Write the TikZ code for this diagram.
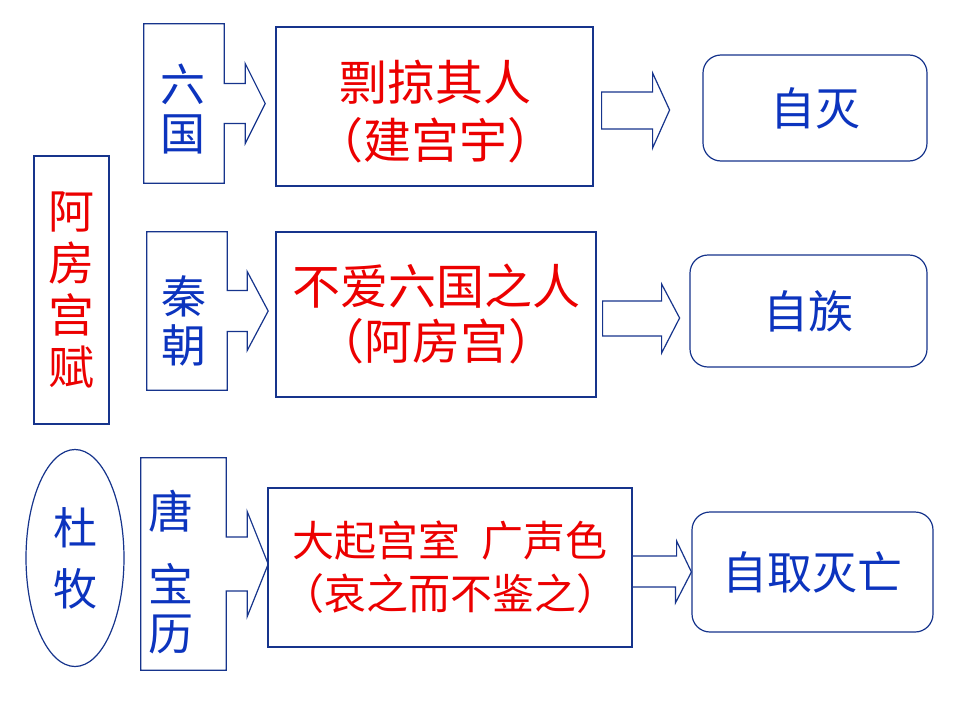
\documentclass[tikz,border=0pt]{standalone}
\usepackage{fontspec}
\newfontfamily\cjk{Noto Sans CJK SC}
\usetikzlibrary{calc,shapes.geometric}
\definecolor{framecol}{RGB}{22,52,140}
\definecolor{txtblue}{RGB}{12,52,190}
\definecolor{txtred}{RGB}{236,0,0}

\begin{document}
\begin{tikzpicture}[x=1pt,y=-1pt,
    box/.style={draw=framecol, line width=1.2pt, inner sep=0pt, align=center},
    callbody/.style={inner sep=0pt, align=center, text=txtblue, font={\cjk\fontsize{45}{49}\selectfont}},
    frame/.style={draw=framecol, line width=1.2pt, line join=miter},
    midbox/.style={box, text=txtred, font={\cjk\fontsize{48}{58}\selectfont}},
    endbox/.style={box, rounded corners=18pt, text=txtblue, font={\cjk\fontsize{45}{50}\selectfont}}]
  \useasboundingbox[fill=white] (0,0) rectangle (960,720);

  % titles on the left
  \node[box, text=txtred, minimum width=75pt, minimum height=268pt, font={\cjk\fontsize{46}{52}\selectfont}] (afg) at (71.5,290) {阿\\房\\宫\\赋};
  \node[box, ellipse, text=txtblue, minimum width=98pt, minimum height=217pt, font={\cjk\fontsize{44}{61}\selectfont}] (dumu) at (75,558) {杜\\牧};

  % callouts
  \node[callbody, minimum width=80pt, minimum height=159pt] (liuguo) at (184,103.5) {};
  \node[callbody] (liutxt) at (183,109) {六\\国};
  \node[callbody, minimum width=80pt, minimum height=158pt] (qinchao) at (187,311) {};
  \node[callbody] (qintxt) at (184,321) {秦\\朝};
  \node[callbody, minimum width=85pt, minimum height=212pt] (tangbl) at (183.5,564) {};
  \node[callbody] (tangtxt) at (171,572) {唐\\[24pt]宝\\历};

  \draw[frame] ($(liuguo.east)+(0,-20)$) -- (liuguo.north east) -- (liuguo.north west) -- (liuguo.south west) -- (liuguo.south east)
    -- ($(liuguo.east)+(0,20)$) -- ++(21,0) -- ++(0,20) -- ++(20,-40) -- ++(-20,-40) -- ++(0,20) -- cycle;
  \draw[frame] ($(qinchao.east)+(0,-20.5)$) -- (qinchao.north east) -- (qinchao.north west) -- (qinchao.south west) -- (qinchao.south east)
    -- ($(qinchao.east)+(0,20.5)$) -- ++(20,0) -- ++(0,19) -- ++(21,-39.5) -- ++(-21,-39.5) -- ++(0,19) -- cycle;
  \draw[frame] ($(tangbl.east)+(0,-27)$) -- (tangbl.north east) -- (tangbl.north west) -- (tangbl.south west) -- (tangbl.south east)
    -- ($(tangbl.east)+(0,27)$) -- ++(21,0) -- ++(0,25.5) -- ++(21,-52.5) -- ++(-21,-52.5) -- ++(0,25.5) -- cycle;

  % middle boxes
  \node[midbox, minimum width=317pt, minimum height=159pt] (luelue) at (434.5,106.5) {};
  \node[text=txtred, align=center, font={\cjk\fontsize{48}{58}\selectfont}] (luetxt) at (435,112) {剽掠其人\\（建宫宇）};
  \node[midbox, minimum width=320pt, minimum height=165pt, font={\cjk\fontsize{48}{55}\selectfont}] (buai) at (436,314.5) {不爱六国之人\\（阿房宫）};
  \node[midbox, minimum width=364pt, minimum height=159pt, font={\cjk\fontsize{42}{53}\selectfont}] (daqi) at (450,567.5) {大起宫室\hspace{0.5em}广声色\\（哀之而不鉴之）};

  % results
  \node[endbox, minimum width=224pt, minimum height=106pt] (zimie) at (815,108) {自灭};
  \node[endbox, minimum width=237pt, minimum height=112pt] (zizu) at (808.5,311) {自族};
  \node[endbox, minimum width=241pt, minimum height=120pt] (ziqu) at (812.5,572) {自取灭亡};

  % block arrows
  \draw[frame] ($(luelue.east)+(8,-14.5)$) -- ++(51,0) -- ++(0,-19) -- ++(17,37) -- ++(-17,38) -- ++(0,-19) -- ++(-51,0) -- cycle;
  \draw[frame] ($(buai.east)+(6,-13.5)$) -- ++(59,0) -- ++(0,-17) -- ++(18,34) -- ++(-18,35) -- ++(0,-17) -- ++(-59,0) -- cycle;
  \draw[frame] ($(daqi.east)+(0,-11.5)$) -- ++(44,0) -- ++(0,-15) -- (ziqu.west) -- ++(-16,31) -- ++(0,-16) -- ++(-44,0);
\end{tikzpicture}
\end{document}
